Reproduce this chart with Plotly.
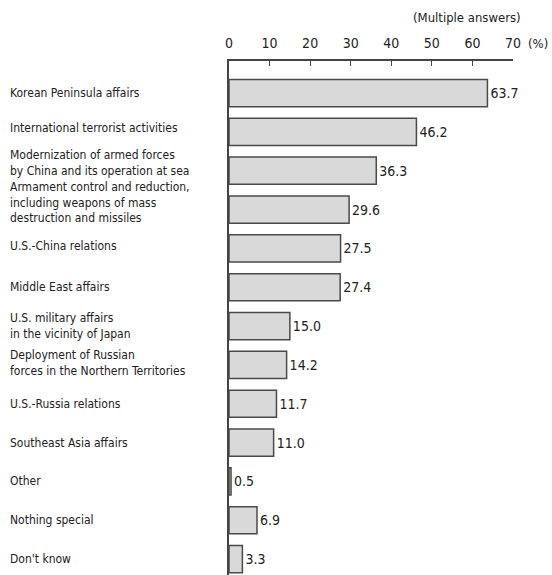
import plotly.graph_objects as go

categories = [
    "Korean Peninsula affairs",
    "International terrorist activities",
    "Modernization of armed forces<br>by China and its operation at sea",
    "Armament control and reduction,<br>including weapons of mass<br>destruction and missiles",
    "U.S.-China relations",
    "Middle East affairs",
    "U.S. military affairs<br>in the vicinity of Japan",
    "Deployment of Russian<br>forces in the Northern Territories",
    "U.S.-Russia relations",
    "Southeast Asia affairs",
    "Other",
    "Nothing special",
    "Don't know",
]
values = [63.7, 46.2, 36.3, 29.6, 27.5, 27.4, 15.0, 14.2, 11.7, 11.0, 0.5, 6.9, 3.3]
tick_values = [0, 10, 20, 30, 40, 50, 60, 70]

# vertical nudges (px) of the category labels, as in the reference layout
label_shift = [0, 4, 8, 7, 2, 0, 0, 2, 0, 0, 0, 0, 0]

FONT = "DejaVu Sans Condensed, Arial Narrow, sans-serif"
positions = list(range(len(categories)))

fig = go.Figure()
fig.add_trace(go.Bar(
    x=values,
    y=positions,
    orientation="h",
    width=0.7,
    marker=dict(color="#d9d9d9", line=dict(color="#4a4a4a", width=1.5)),
    text=[f"{v:.1f}" for v in values],
    textposition="outside",
    textfont=dict(family=FONT, size=14, color="#222222"),
    cliponaxis=False,
    hoverinfo="skip",
))

annotations = []
for i, c in enumerate(categories):
    annotations.append(dict(
        x=(8 - 229) / 284, xref="paper", y=i, yref="y", yshift=label_shift[i],
        text=c, showarrow=False, xanchor="left", yanchor="middle", align="left",
        font=dict(family=FONT, size=12, color="#222222"),
    ))
annotations.append(dict(
    x=1 + 25 / 284, xref="paper", y=1 + 17 / 514, yref="paper", yanchor="middle",
    text="(%)", showarrow=False, xanchor="center",
    font=dict(family=FONT, size=13, color="#222222"),
))
annotations.append(dict(
    x=(467 - 229) / 284, xref="paper", y=1 + 44 / 514, yref="paper", yanchor="middle",
    text="(Multiple answers)", showarrow=False, xanchor="center",
    font=dict(family=FONT, size=13, color="#222222"),
))

fig.update_layout(
    width=552, height=575,
    margin=dict(l=229, r=39, t=61, b=0),
    paper_bgcolor="white", plot_bgcolor="white",
    showlegend=False,
    annotations=annotations,
    xaxis=dict(
        range=[0, 70], side="top", tickvals=tick_values,
        ticks="inside", ticklen=5, tickcolor="#444444", tickwidth=1.2,
        ticklabelstandoff=6,
        showline=True, linecolor="#444444", linewidth=1.5,
        showgrid=False, zeroline=False,
        tickfont=dict(family=FONT, size=14, color="#222222"),
    ),
    yaxis=dict(
        range=[12.41, -0.825], showticklabels=False, ticks="",
        showline=True, linecolor="#444444", linewidth=1.5,
        showgrid=False, zeroline=False,
    ),
)

fig.write_html("out.html")
